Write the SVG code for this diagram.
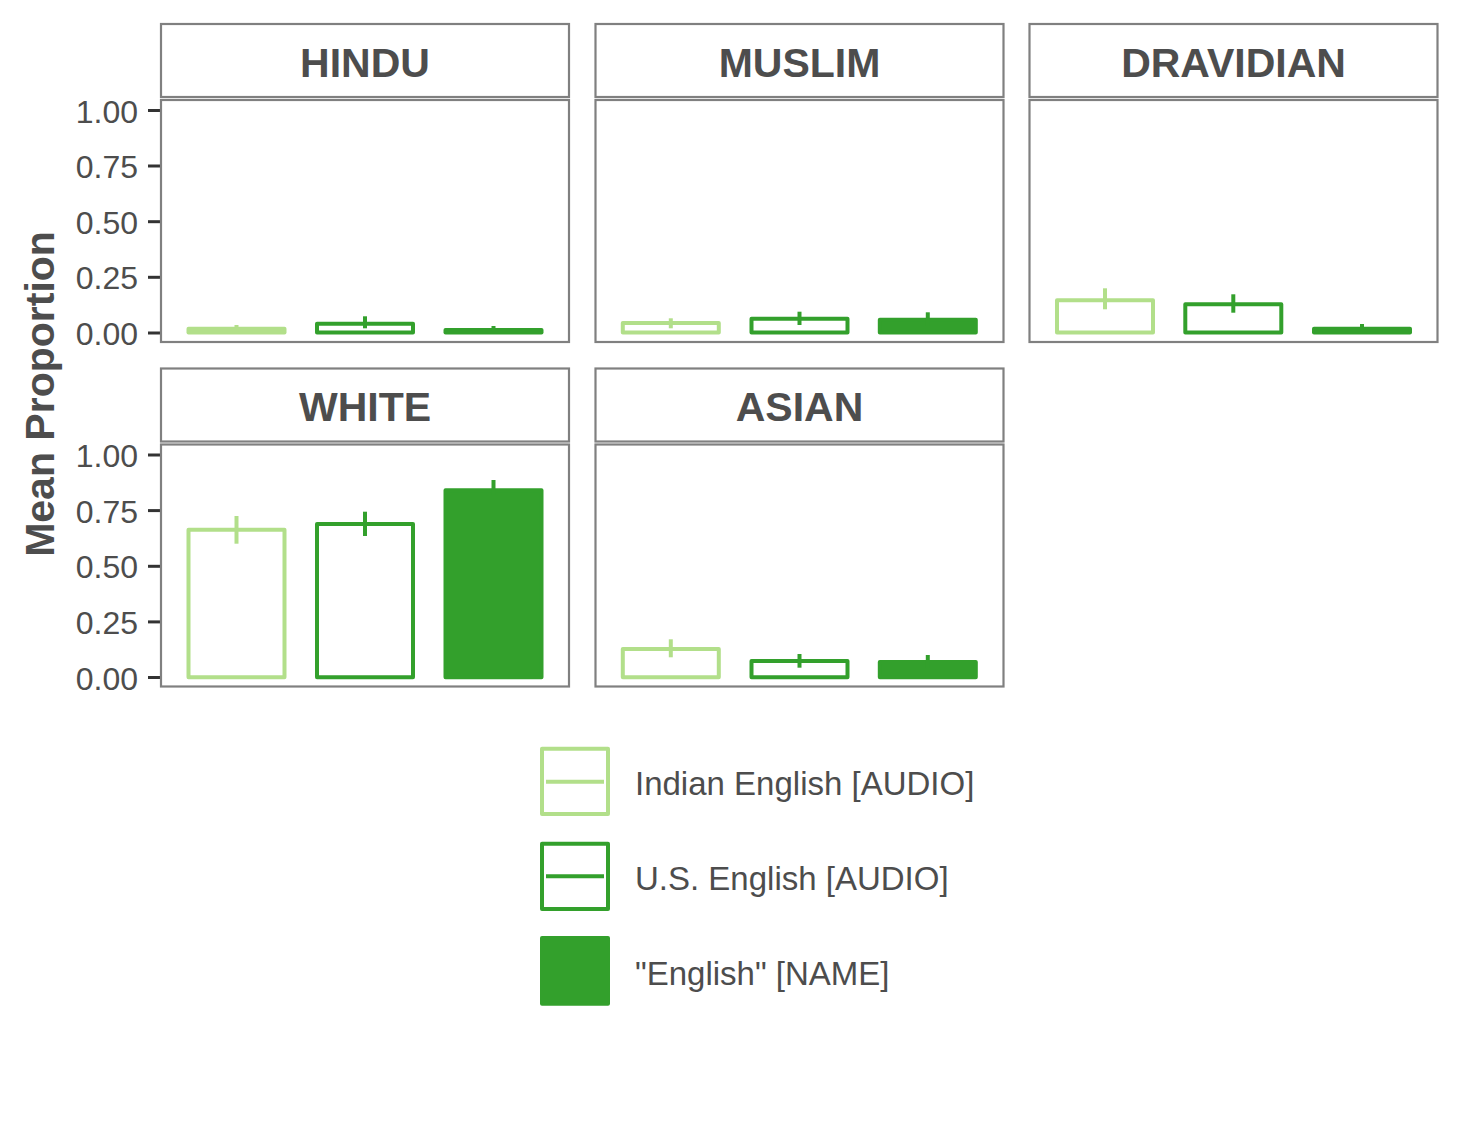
<svg xmlns="http://www.w3.org/2000/svg" width="1462" height="1125" viewBox="0 0 1462 1125">
<style>
.bg{fill:#ffffff}
.strip{fill:#ffffff;stroke:#808080;stroke-width:2.2}
.panel{fill:#ffffff;stroke:#808080;stroke-width:2.2}
.stxt{font-family:"Liberation Sans",Arial,sans-serif;font-weight:bold;font-size:41px;fill:#4d4d4d;text-anchor:middle}
.ytxt{font-family:"Liberation Sans",Arial,sans-serif;font-size:32px;fill:#4d4d4d;text-anchor:end}
.ttl{font-family:"Liberation Sans",Arial,sans-serif;font-weight:bold;font-size:41px;fill:#4d4d4d;text-anchor:middle}
.ltxt{font-family:"Liberation Sans",Arial,sans-serif;font-size:33px;fill:#4d4d4d}
.tick{stroke:#333333;stroke-width:3}
.ind{fill:none;stroke:#b2df8a;stroke-width:4;stroke-linejoin:round}
.us{fill:none;stroke:#33a02c;stroke-width:4;stroke-linejoin:round}
.nm{fill:#33a02c;stroke:#33a02c;stroke-width:4;stroke-linejoin:round}
.eind{stroke:#b2df8a;stroke-width:4}
.eus{stroke:#33a02c;stroke-width:4}
</style>
<rect class="bg" x="0" y="0" width="1462" height="1125"/>

<g id="axis-title">
<text class="ttl" transform="translate(54,394) rotate(-90)">Mean Proportion</text>
</g>

<g id="y-axis-row1">
<line class="tick" x1="148" y1="110.5" x2="160" y2="110.5"/>
<line class="tick" x1="148" y1="166" x2="160" y2="166"/>
<line class="tick" x1="148" y1="221.7" x2="160" y2="221.7"/>
<line class="tick" x1="148" y1="277.3" x2="160" y2="277.3"/>
<line class="tick" x1="148" y1="333" x2="160" y2="333"/>
<text class="ytxt" x="138" y="122.5">1.00</text>
<text class="ytxt" x="138" y="178">0.75</text>
<text class="ytxt" x="138" y="233.7">0.50</text>
<text class="ytxt" x="138" y="289.3">0.25</text>
<text class="ytxt" x="138" y="345">0.00</text>
</g>

<g id="y-axis-row2">
<line class="tick" x1="148" y1="455" x2="160" y2="455"/>
<line class="tick" x1="148" y1="510.6" x2="160" y2="510.6"/>
<line class="tick" x1="148" y1="566.3" x2="160" y2="566.3"/>
<line class="tick" x1="148" y1="621.9" x2="160" y2="621.9"/>
<line class="tick" x1="148" y1="677.5" x2="160" y2="677.5"/>
<text class="ytxt" x="138" y="467">1.00</text>
<text class="ytxt" x="138" y="522.6">0.75</text>
<text class="ytxt" x="138" y="578.3">0.50</text>
<text class="ytxt" x="138" y="633.9">0.25</text>
<text class="ytxt" x="138" y="689.5">0.00</text>
</g>

<g id="panel-hindu">
<rect class="strip" x="161" y="24" width="408" height="73"/>
<text class="stxt" x="365" y="76.5">HINDU</text>
<rect class="panel" x="161" y="100" width="408" height="242"/>
<rect class="ind" x="188.5" y="328.7" width="96" height="3.8"/>
<line class="eind" x1="236.5" y1="325" x2="236.5" y2="331"/>
<rect class="us" x="317" y="323.7" width="96" height="8.8"/>
<line class="eus" x1="365" y1="316.3" x2="365" y2="328.3"/>
<rect class="nm" x="445.5" y="330" width="96" height="2.5"/>
<line class="eus" x1="493.5" y1="326" x2="493.5" y2="331"/>
</g>

<g id="panel-muslim">
<rect class="strip" x="595.5" y="24" width="408" height="73"/>
<text class="stxt" x="799.5" y="76.5">MUSLIM</text>
<rect class="panel" x="595.5" y="100" width="408" height="242"/>
<rect class="ind" x="622.8" y="323" width="96" height="9.5"/>
<line class="eind" x1="670.8" y1="318.3" x2="670.8" y2="328.3"/>
<rect class="us" x="751.5" y="318.7" width="96" height="13.8"/>
<line class="eus" x1="799.5" y1="311.7" x2="799.5" y2="325"/>
<rect class="nm" x="879.8" y="319.7" width="96" height="12.8"/>
<line class="eus" x1="927.8" y1="312.3" x2="927.8" y2="326"/>
</g>

<g id="panel-dravidian">
<rect class="strip" x="1029.5" y="24" width="408" height="73"/>
<text class="stxt" x="1233.5" y="76.5">DRAVIDIAN</text>
<rect class="panel" x="1029.5" y="100" width="408" height="242"/>
<rect class="ind" x="1057" y="300.3" width="96" height="32.2"/>
<line class="eind" x1="1105" y1="288.3" x2="1105" y2="309.3"/>
<rect class="us" x="1185.3" y="304.3" width="96" height="28.2"/>
<line class="eus" x1="1233.3" y1="294.3" x2="1233.3" y2="312.7"/>
<rect class="nm" x="1314" y="328.7" width="96" height="3.8"/>
<line class="eus" x1="1362" y1="324" x2="1362" y2="331"/>
</g>

<g id="panel-white">
<rect class="strip" x="161" y="368.5" width="408" height="73"/>
<text class="stxt" x="365" y="421">WHITE</text>
<rect class="panel" x="161" y="444.5" width="408" height="242"/>
<rect class="ind" x="188.5" y="529.7" width="96" height="147.6"/>
<line class="eind" x1="236.5" y1="516" x2="236.5" y2="543.7"/>
<rect class="us" x="317" y="524" width="96" height="153.3"/>
<line class="eus" x1="365" y1="511.7" x2="365" y2="536"/>
<rect class="nm" x="445.5" y="490.3" width="96" height="187"/>
<line class="eus" x1="493.5" y1="480" x2="493.5" y2="495"/>
</g>

<g id="panel-asian">
<rect class="strip" x="595.5" y="368.5" width="408" height="73"/>
<text class="stxt" x="799.5" y="421">ASIAN</text>
<rect class="panel" x="595.5" y="444.5" width="408" height="242"/>
<rect class="ind" x="622.8" y="649" width="96" height="28.3"/>
<line class="eind" x1="670.8" y1="639.3" x2="670.8" y2="657.3"/>
<rect class="us" x="751.5" y="661" width="96" height="16.3"/>
<line class="eus" x1="799.5" y1="654" x2="799.5" y2="667.7"/>
<rect class="nm" x="879.8" y="662" width="96" height="15.3"/>
<line class="eus" x1="927.8" y1="655" x2="927.8" y2="668"/>
</g>

<g id="legend">
<rect class="ind" x="542" y="748.7" width="66" height="65.3"/>
<line class="eind" x1="546" y1="781.7" x2="604" y2="781.7"/>
<text class="ltxt" x="635" y="795">Indian English [AUDIO]</text>
<rect class="us" x="542" y="843.7" width="66" height="65.3"/>
<line class="eus" x1="546" y1="876.3" x2="604" y2="876.3"/>
<text class="ltxt" x="635" y="890">U.S. English [AUDIO]</text>
<rect class="nm" x="542" y="938" width="66" height="65.7"/>
<text class="ltxt" x="635" y="985">"English" [NAME]</text>
</g>
</svg>
